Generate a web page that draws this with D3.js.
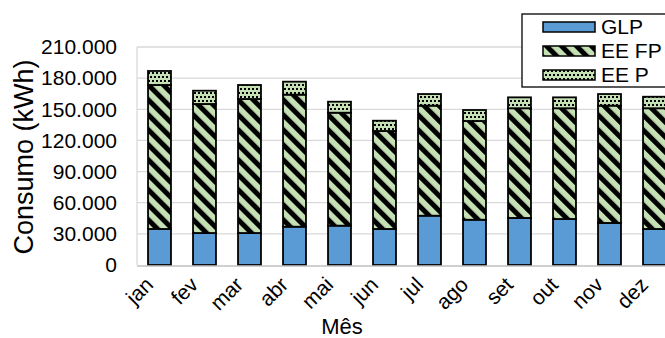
<!DOCTYPE html>
<html>
<head>
<meta charset="utf-8">
<script src="https://cdn.jsdelivr.net/npm/d3@7/dist/d3.min.js"></script>
<style>
  html, body { margin: 0; padding: 0; background: #fff; }
  svg { display: block; font-family: "Liberation Sans", Arial, sans-serif; }
</style>
</head>
<body>
<svg id="chart" width="665" height="338"></svg>
<script>
// Monthly consumption (kWh) by source
const months = ["jan", "fev", "mar", "abr", "mai", "jun", "jul", "ago", "set", "out", "nov", "dez"];
const glp  = [34700, 30800, 30800, 36900, 37900, 34700, 47500, 43600, 45300, 44300, 40500, 34700];
const eeFP = [138700, 124300, 129100, 127200, 108800, 94400, 106000, 95100, 105700, 106700, 113000, 116300];
const eeP  = [13500, 12800, 13500, 12500, 10600, 9900, 11200, 10600, 10500, 10500, 11200, 11100];
const seriesNames = ["GLP", "EE FP", "EE P"];
const yTicks = [0, 30000, 60000, 90000, 120000, 150000, 180000, 210000];

const svg = d3.select("#chart");
const plot = { left: 137, right: 677, top: 47, bottom: 265 };

const ptBR = d3.formatLocale({ decimal: ",", thousands: ".", grouping: [3], currency: ["R$", ""] });
const fmt = ptBR.format(",d");

const x = d3.scaleBand().domain(months).range([plot.left, plot.right]).paddingInner(0.49).paddingOuter(0.245);
const y = d3.scaleLinear().domain([0, 210000]).range([plot.bottom, plot.top]);

// fills: solid blue, diagonal stripes, dotted grid
const defs = svg.append("defs");
const green = "#c5e0b4";

const stripes = defs.append("pattern")
  .attr("id", "fill-fp")
  .attr("patternUnits", "userSpaceOnUse")
  .attr("width", 10.6).attr("height", 10.6)
  .attr("patternTransform", "rotate(-45)");
stripes.append("rect").attr("width", 10.6).attr("height", 10.6).attr("fill", green);
stripes.append("rect").attr("width", 5).attr("height", 10.6).attr("fill", "#000");

const dots = defs.append("pattern")
  .attr("id", "fill-p")
  .attr("patternUnits", "userSpaceOnUse")
  .attr("width", 8).attr("height", 8);
dots.append("rect").attr("width", 8).attr("height", 8).attr("fill", green);
dots.append("rect").attr("x", 0).attr("y", 0).attr("width", 2).attr("height", 2).attr("fill", "#000");
dots.append("rect").attr("x", 4).attr("y", 0).attr("width", 2).attr("height", 2).attr("fill", "#000");
dots.append("rect").attr("x", 2).attr("y", 4).attr("width", 2).attr("height", 2).attr("fill", "#000");
dots.append("rect").attr("x", 6).attr("y", 4).attr("width", 2).attr("height", 2).attr("fill", "#000");

const fills = ["#5b9bd5", "url(#fill-fp)", "url(#fill-p)"];

// gridlines
svg.append("g")
  .selectAll("line")
  .data(yTicks.filter(d => d > 0))
  .join("line")
  .attr("x1", plot.left).attr("x2", plot.right)
  .attr("y1", d => y(d)).attr("y2", d => y(d))
  .attr("stroke", "#d9d9d9").attr("stroke-width", 1.3);

// plot-area left edge
svg.append("line")
  .attr("x1", plot.left).attr("x2", plot.left)
  .attr("y1", plot.top).attr("y2", plot.bottom)
  .attr("stroke", "#d9d9d9").attr("stroke-width", 1.3);

// y axis labels
const yAxis = d3.axisLeft(y).tickValues(yTicks).tickFormat(fmt).tickSize(0).tickPadding(0);
svg.append("g")
  .attr("transform", `translate(117,0)`)
  .call(yAxis)
  .call(g => g.select(".domain").remove())
  .call(g => g.selectAll("text")
    .attr("font-size", 21)
    .attr("font-family", "Liberation Sans, Arial, sans-serif")
    .attr("fill", "#000"));

// stacked bars
const rows = months.map((m, i) => ({ month: m, GLP: glp[i], "EE FP": eeFP[i], "EE P": eeP[i] }));
const stack = d3.stack().keys(seriesNames)(rows);

svg.append("g")
  .selectAll("g")
  .data(stack)
  .join("g")
  .attr("fill", (d, i) => fills[i])
  .selectAll("rect")
  .data(d => d)
  .join("rect")
  .attr("x", d => x(d.data.month))
  .attr("y", d => y(d[1]))
  .attr("width", x.bandwidth())
  .attr("height", d => y(d[0]) - y(d[1]))
  .attr("stroke", "#000")
  .attr("stroke-width", 1.8);

// x axis baseline
svg.append("line")
  .attr("x1", plot.left).attr("x2", plot.right)
  .attr("y1", plot.bottom + 1).attr("y2", plot.bottom + 1)
  .attr("stroke", "#bfbfbf").attr("stroke-width", 1.5);

// month labels, rotated
svg.append("g")
  .selectAll("text")
  .data(months)
  .join("text")
  .attr("transform", d => `translate(${x(d) + x.bandwidth() / 2 - 5},${plot.bottom + 21}) rotate(-45)`)
  .attr("text-anchor", "end")
  .attr("font-size", 21)
  .attr("fill", "#000")
  .text(d => d);

// axis titles
svg.append("text")
  .attr("x", 342).attr("y", 334)
  .attr("text-anchor", "middle")
  .attr("font-size", 22)
  .attr("fill", "#000")
  .text("Mês");

svg.append("text")
  .attr("transform", "translate(33,157) rotate(-90)")
  .attr("text-anchor", "middle")
  .attr("font-size", 27)
  .attr("fill", "#000")
  .text("Consumo (kWh)");

// legend
const legend = svg.append("g");
legend.append("rect")
  .attr("x", 522).attr("y", 14).attr("width", 170).attr("height", 73)
  .attr("fill", "#fff").attr("stroke", "#000").attr("stroke-width", 1.3);

const legendRows = legend.selectAll("g.item")
  .data(seriesNames)
  .join("g")
  .attr("class", "item")
  .attr("transform", (d, i) => `translate(543,${22 + i * 24})`);

legendRows.append("rect")
  .attr("width", 52).attr("height", 10)
  .attr("fill", (d, i) => fills[i])
  .attr("stroke", "#000").attr("stroke-width", 1.5);

legendRows.append("text")
  .attr("x", 58).attr("y", 12)
  .attr("font-size", 21)
  .attr("fill", "#000")
  .text(d => d);
</script>
</body>
</html>
